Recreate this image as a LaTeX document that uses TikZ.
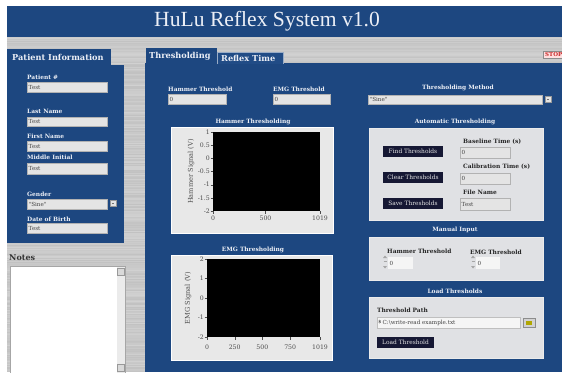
\documentclass[tikz,border=0pt]{standalone}
\usepackage{fontspec}
\setmainfont{Liberation Serif}
\newfontfamily\guifont{DejaVu Serif}
\definecolor{panelblue}{RGB}{29,71,128}
\definecolor{tabblue}{RGB}{33,76,134}
\definecolor{fieldgray}{RGB}{228,228,228}
\definecolor{boxgray}{RGB}{224,225,228}
\definecolor{btnnavy}{RGB}{22,24,52}
\definecolor{lbltext}{RGB}{236,239,246}
\definecolor{stopred}{RGB}{200,40,40}
\begin{document}
\begin{tikzpicture}[x=1pt,y=-1pt,
  lbl/.style={font=\guifont\fontsize{5.9}{7}\selectfont\bfseries, text=lbltext, inner sep=0pt},
  dlbl/.style={font=\guifont\fontsize{5.9}{7}\selectfont\bfseries, text=black!85, inner sep=0pt},
  tabtext/.style={font=\guifont\fontsize{8.2}{9}\selectfont\bfseries, text=lbltext, inner sep=0pt},
  ftext/.style={font=\guifont\fontsize{5.6}{6}\selectfont, text=black!75, inner sep=0pt, anchor=west},
  fieldbox/.style={fill=fieldgray, draw=white!70!black, line width=0.3pt},
  btntext/.style={font=\guifont\fontsize{5.9}{7}\selectfont, text=white!90!black, inner sep=0pt},
  ticktext/.style={font=\guifont\fontsize{6.2}{7}\selectfont, text=black!70, inner sep=0pt},
  axtext/.style={font=\guifont\fontsize{6.6}{7}\selectfont, text=black!70, inner sep=0pt, rotate=90},
  grayframe/.style={fill=boxgray, draw=white!92!black, line width=0.6pt},
]
\useasboundingbox (0,0) rectangle (562,372);
\fill[white] (0,0) rectangle (562,372);

% brushed metal background
\pgfmathsetseed{11}
\foreach \yy in {37,...,371}{
  \pgfmathsetmacro\sh{int(76+rnd*7)}
  \fill[white!\sh!black] (7,\yy) rectangle (562,\yy+1.05);
}

% title bar
\fill[panelblue] (7,6) rectangle (562,37);
\node[font=\fontsize{21.6}{24}\selectfont, text=lbltext, inner sep=0pt] (title) at (267,21.5) {HuLu Reflex System v1.0};

% ---------------- patient information panel
\fill[panelblue] (7,49) rectangle (111,66);
\fill[panelblue] (7,65) rectangle (124,243);
\node[tabtext, anchor=west] (pinfo) at (12,57.5) {Patient Information};

\newcommand{\guifield}[6]{%
  \draw[fieldbox] (#2,#3) rectangle (#4,#5);
  \node[ftext] (#1) at ({#2+1.5},{(#3+#5)/2}) {#6};}

\node[lbl, anchor=west] (lpid) at (27,77) {Patient \#};
\guifield{fpid}{27}{82}{107}{92}{Test}
\node[lbl, anchor=west] (llast) at (27,111) {Last Name};
\guifield{flast}{27}{117}{107}{126}{Test}
\node[lbl, anchor=west] (lfirst) at (27,136) {First Name};
\guifield{ffirst}{27}{141}{107}{151}{Test}
\node[lbl, anchor=west] (lmid) at (27,157) {Middle Initial};
\guifield{fmid}{27}{163}{107}{174}{Test}
\node[lbl, anchor=west] (lgender) at (27,194) {Gender};
\guifield{fgender}{27}{199}{107}{209}{"Sine"}
\draw[fill=fieldgray, draw=white!60!black, line width=0.3pt] (110,200.5) rectangle (116,206.5);
\fill[black!55] (112,203) rectangle (114,204);
\node[lbl, anchor=west] (ldob) at (27,219) {Date of Birth};
\guifield{fdob}{27}{223}{107}{233}{Test}

% notes
\node[font=\guifont\fontsize{8}{9}\selectfont\bfseries, text=black!80, inner sep=0pt, anchor=west] (notes) at (9,258) {Notes};
\draw[fill=white, draw=white!65!black, line width=0.4pt] (10,266) rectangle (125,380);
\fill[white!92!black] (117,267) rectangle (124.5,380);
\draw[fill=white!85!black, draw=white!60!black, line width=0.3pt] (117,268) rectangle (124,275);
\draw[fill=white!85!black, draw=white!60!black, line width=0.3pt] (117,364) rectangle (124,371);

% ---------------- main tab panel
\fill[panelblue] (145,63) rectangle (562,372);
\fill[panelblue] (146,48) rectangle (217,64);
\fill[tabblue] (217,52) rectangle (283,64);
\draw[white!55!panelblue, line width=0.4pt] (217,64) -- (217,52) -- (283,52) -- (283,64);
\node[tabtext, anchor=west] (tthr) at (149,56.5) {Thresholding};
\node[tabtext, anchor=west] (trefl) at (221,58.5) {Reflex Time};

% stop button
\draw[fill=white!88!red, draw=white!55!black, line width=0.3pt] (543,51) rectangle (566,58.5);
\node[font=\guifont\fontsize{5.5}{6}\selectfont\bfseries, text=stopred, inner sep=0pt, anchor=west] (stop) at (545,54.8) {STOP};

% threshold readouts
\node[lbl, anchor=west] (lham) at (168,89) {Hammer Threshold};
\guifield{fham}{168}{94}{226}{104}{0}
\node[lbl, anchor=west] (lemg) at (273,89) {EMG Threshold};
\guifield{femg}{273}{94}{330}{104}{0}

% hammer thresholding plot
\node[lbl] (hplot) at (253,122) {Hammer Thresholding};
\draw[fill=white!91!black, draw=white, line width=0.8pt] (171,127) rectangle (333,233);
\fill[black] (213,132) rectangle (320,211);
\foreach \v [count=\i from 0] in {1,0.5,0,-0.5,-1,-1.5,-2}{
  \draw[black!70, line width=0.3pt] (210.5,{132+\i*79/6}) -- (213,{132+\i*79/6});
  \node[ticktext, anchor=east] (hy\i) at (210,{132+\i*79/6}) {\v};
}
\foreach \v/\xx [count=\i] in {0/213,500/265.5,1019/320}{
  \draw[black!70, line width=0.3pt] (\xx,211) -- (\xx,213.5);
  \node[ticktext] (hx\i) at (\xx,218.5) {\v};
}
\node[axtext] (hylab) at (191,171.5) {Hammer Signal (V)};

% EMG thresholding plot
\node[lbl] (eplot) at (253,250) {EMG Thresholding};
\draw[fill=white!91!black, draw=white, line width=0.8pt] (171,255) rectangle (332,360);
\fill[black] (207,259) rectangle (320,337);
\foreach \v [count=\i from 0] in {2,1,0,-1,-2}{
  \draw[black!70, line width=0.3pt] (204.5,{259+\i*19.5}) -- (207,{259+\i*19.5});
  \node[ticktext, anchor=east] (ey\i) at (204,{259+\i*19.5}) {\v};
}
\foreach \v/\xx [count=\i] in {0/207,250/234.7,500/262.4,750/290.2,1019/320}{
  \draw[black!70, line width=0.3pt] (\xx,337) -- (\xx,339.5);
  \node[ticktext] (ex\i) at (\xx,347) {\v};
}
\node[axtext] (eylab) at (188,298) {EMG Signal (V)};

% thresholding method
\node[lbl] (lmeth) at (458,88) {Thresholding Method};
\guifield{fmeth}{368}{95}{542}{104}{"Sine"}
\draw[fill=fieldgray, draw=white!60!black, line width=0.3pt] (545,96) rectangle (551,102.5);
\fill[black!55] (547,98.7) rectangle (549,99.7);

% automatic thresholding
\node[lbl] (lauto) at (455,122) {Automatic Thresholding};
\draw[grayframe] (369,128) rectangle (543,220);
\foreach \nm/\txt/\yy in {bfind/Find Thresholds/151.5,bclear/Clear Thresholds/177.5,bsave/Save Thresholds/203}{
  \fill[btnnavy] (383,\yy-5.5) rectangle (443,\yy+5.5);
  \node[btntext] (\nm) at (413,\yy) {\txt};
}
\node[dlbl, anchor=west] (lbase) at (463,142) {Baseline Time (s)};
\guifield{fbase}{460}{147}{510}{158}{0}
\node[dlbl, anchor=west] (lcal) at (463,167) {Calibration Time (s)};
\guifield{fcal}{460}{173}{510}{184}{0}
\node[dlbl, anchor=west] (lfile) at (463,192) {File Name};
\guifield{ffile}{460}{198}{510}{210}{Test}

% manual input
\node[lbl] (lman) at (455,230) {Manual Input};
\draw[grayframe] (369,237) rectangle (543,280);
\node[dlbl, anchor=west] (lmham) at (387,251) {Hammer Threshold};
\node[dlbl, anchor=west] (lmemg) at (470,252) {EMG Threshold};
\foreach \nm/\xa/\xb in {fmham/388/413,fmemg/476/500}{
  \fill[white!96!black] (\xa,257) rectangle (\xb,269);
  \node[ftext] (\nm) at (\xa+1.5,263) {0};
  \fill[white!65!black] (\xa-5,258) -- (\xa-3,255.5) -- (\xa-1,258) -- cycle;
  \fill[white!65!black] (\xa-5,266) -- (\xa-3,268.5) -- (\xa-1,266) -- cycle;
  \draw[white!65!black, line width=0.3pt] (\xa-4.5,261.5) -- (\xa-1.5,261.5);
}

% load thresholds
\node[lbl] (lload) at (455,291) {Load Thresholds};
\draw[grayframe] (369,297) rectangle (543,358);
\node[dlbl, anchor=west] (lpath) at (377,310) {Threshold Path};
\draw[fill=white!96!black, draw=white!75!black, line width=0.3pt] (377,317) rectangle (520,328);
\node[font=\guifont\fontsize{4.5}{5}\selectfont\bfseries, text=black!70, inner sep=0pt] (picon) at (380,322.5) {\$};
\node[ftext] (fpath) at (382.5,322.5) {C:\textbackslash write-read example.txt};
\draw[fill=white!82!black, draw=white!55!black, line width=0.3pt] (523,318) rectangle (535,327);
\fill[olive!70!yellow] (526,320.5) rectangle (532,325);
\fill[btnnavy] (377,337) rectangle (434,348);
\node[btntext] (bload) at (405.5,342.5) {Load Threshold};

\end{tikzpicture}
\end{document}
